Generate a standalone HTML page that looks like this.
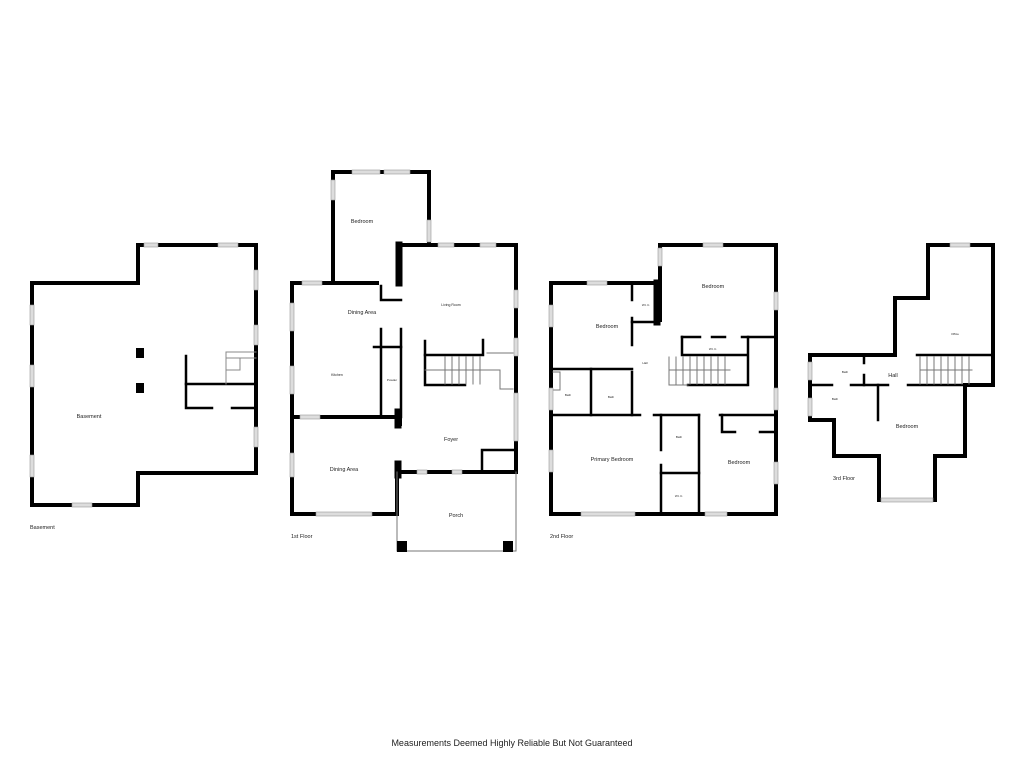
<!DOCTYPE html>
<html><head><meta charset="utf-8"><style>
html,body{margin:0;padding:0;background:#fff;width:1024px;height:768px;overflow:hidden}
svg{display:block}
text{font-family:"Liberation Sans",sans-serif;fill:#222}
</style></head><body>
<svg width="1024" height="768" viewBox="0 0 1024 768" xmlns="http://www.w3.org/2000/svg">
<rect width="1024" height="768" fill="#fff"/>
<g fill="none" stroke="#000" stroke-width="4" stroke-linecap="square">
<!-- Basement -->
<polygon points="32,283 138,283 138,245 256,245 256,473 138,473 138,505 32,505"/>
<g stroke-width="2.5">
<polyline points="186,356 186,408 212,408"/>
<polyline points="186,384 256,384"/>
<polyline points="232,408 256,408"/>
</g>
<g stroke-width="1" stroke="#888">
<polyline points="226,384 226,352 256,352"/>
<polyline points="226,358 256,358"/>
<polyline points="240,358 240,370 226,370"/>
</g>
<!-- 1st floor -->
<polyline points="333,283 333,172 429,172 429,245"/>
<polyline points="292,283 292,514 397,514 397,472 516,472 516,245 398,245"/>
<polyline points="292,283 377,283"/>
<line x1="399" y1="245" x2="399" y2="283" stroke-width="7"/>
<polyline points="292,417 397,417"/>
<line x1="398" y1="412" x2="398" y2="425" stroke-width="7"/>
<line x1="398" y1="464" x2="398" y2="475" stroke-width="7"/>
<g stroke-width="2.5">
<polyline points="381,286 381,300 401,300"/>
<polyline points="381,329 381,417"/>
<polyline points="401,329 401,417"/>
<polyline points="374,347 401,347"/>
<polyline points="425,341 425,385 465,385"/>
<polyline points="425,355 483,355 483,340"/>
<polyline points="482,470 482,450 516,450"/>
</g>
<g stroke-width="1" stroke="#777">
<polyline points="397,472 397,551 516,551 516,472"/>
<line x1="445" y1="357" x2="445" y2="384"/><line x1="452" y1="357" x2="452" y2="384"/><line x1="459" y1="357" x2="459" y2="384"/><line x1="466" y1="357" x2="466" y2="384"/><line x1="473" y1="357" x2="473" y2="384"/><line x1="480" y1="357" x2="480" y2="384"/>
<polyline points="425,370 500,370 500,389 513,389"/>
<polyline points="487,353 513,353"/>
</g>
<!-- 2nd floor -->
<polyline points="660,283 551,283 551,514 776,514 776,245 660,245 660,320"/>
<line x1="657" y1="283" x2="657" y2="322" stroke-width="7"/>
<g stroke-width="2.5">
<polyline points="632,283 632,300"/><polyline points="632,318 632,345"/><polyline points="632,372 632,415"/>
<polyline points="632,322 655,322"/>
<polyline points="551,369 632,369"/>
<polyline points="591,369 591,415"/>
<polyline points="551,415 640,415"/>
<polyline points="654,415 699,415"/>
<polyline points="661,415 661,450"/><polyline points="661,465 661,514"/>
<polyline points="699,415 699,514"/>
<polyline points="661,473 699,473"/>
<polyline points="682,337 682,355 746,355"/>
<polyline points="682,337 700,337"/><polyline points="712,337 725,337"/><polyline points="742,337 776,337"/>
<polyline points="748,337 748,385"/>
<polyline points="688,385 746,385"/>
<polyline points="720,415 776,415"/>
<polyline points="722,415 722,432 735,432"/><polyline points="760,432 776,432"/>
</g>
<g stroke-width="1" stroke="#777">
<polyline points="669,357 669,385 688,385"/>
<line x1="676" y1="357" x2="676" y2="384"/><line x1="683" y1="357" x2="683" y2="384"/><line x1="690" y1="357" x2="690" y2="384"/><line x1="697" y1="357" x2="697" y2="384"/><line x1="704" y1="357" x2="704" y2="384"/><line x1="711" y1="357" x2="711" y2="384"/><line x1="718" y1="357" x2="718" y2="384"/><line x1="725" y1="357" x2="725" y2="384"/>
<line x1="669" y1="370" x2="730" y2="370"/>
<polyline points="553,372 560,372 560,390 553,390"/>
</g>
<!-- 3rd floor -->
<polygon points="895,298 928,298 928,245 993,245 993,385 965,385 965,456 935,456 935,500 879,500 879,456 834,456 834,420 810,420 810,355 895,355"/>
<g stroke-width="2.5">
<polyline points="895,355 895,298"/>
<polyline points="864,355 864,363"/><polyline points="864,375 864,385"/>
<polyline points="810,385 832,385"/><polyline points="851,385 888,385"/><polyline points="908,385 965,385"/>
<polyline points="878,385 878,420"/>
<polyline points="917,355 993,355"/>
</g>
<g stroke-width="1" stroke="#777">
<polyline points="920,357 920,384"/>
<line x1="927" y1="357" x2="927" y2="384"/><line x1="934" y1="357" x2="934" y2="384"/><line x1="941" y1="357" x2="941" y2="384"/><line x1="948" y1="357" x2="948" y2="384"/><line x1="955" y1="357" x2="955" y2="384"/><line x1="962" y1="357" x2="962" y2="384"/><line x1="969" y1="357" x2="969" y2="384"/>
<line x1="920" y1="370" x2="972" y2="370"/>
</g>
</g>
<!-- windows -->
<g fill="#ddd" stroke="#999" stroke-width="0.6">
<rect x="30" y="305" width="4" height="20"/><rect x="30" y="365" width="4" height="22"/><rect x="30" y="455" width="4" height="22"/>
<rect x="144" y="243" width="14" height="4"/><rect x="218" y="243" width="20" height="4"/>
<rect x="254" y="270" width="4" height="20"/><rect x="254" y="325" width="4" height="20"/><rect x="254" y="427" width="4" height="20"/>
<rect x="72" y="503" width="20" height="4"/>
<rect x="352" y="170" width="28" height="4"/><rect x="384" y="170" width="26" height="4"/><rect x="331" y="180" width="4" height="20"/>
<rect x="427" y="220" width="4" height="22"/><rect x="438" y="243" width="16" height="4"/><rect x="480" y="243" width="16" height="4"/>
<rect x="290" y="303" width="4" height="28"/><rect x="290" y="366" width="4" height="28"/><rect x="290" y="453" width="4" height="24"/>
<rect x="514" y="290" width="4" height="18"/><rect x="514" y="338" width="4" height="18"/><rect x="514" y="393" width="4" height="48"/>
<rect x="316" y="512" width="56" height="4"/><rect x="417" y="470" width="10" height="4"/><rect x="452" y="470" width="10" height="4"/>
<rect x="300" y="415" width="20" height="4"/><rect x="302" y="281" width="20" height="4"/>
<rect x="587" y="281" width="20" height="4"/><rect x="549" y="305" width="4" height="22"/><rect x="549" y="388" width="4" height="22"/><rect x="549" y="450" width="4" height="22"/>
<rect x="703" y="243" width="20" height="4"/><rect x="658" y="248" width="4" height="18"/><rect x="774" y="292" width="4" height="18"/><rect x="774" y="388" width="4" height="22"/><rect x="774" y="462" width="4" height="22"/>
<rect x="581" y="512" width="54" height="4"/><rect x="705" y="512" width="22" height="4"/>
<rect x="950" y="243" width="20" height="4"/><rect x="808" y="362" width="4" height="18"/><rect x="808" y="398" width="4" height="18"/><rect x="881" y="498" width="52" height="4"/>
</g>
<!-- solid blocks -->
<g fill="#000">
<rect x="136" y="348" width="8" height="10"/><rect x="136" y="383" width="8" height="10"/>
<rect x="397" y="541" width="10" height="11"/><rect x="503" y="541" width="10" height="11"/>
<rect x="396" y="416" width="6" height="10"/>
</g>
<!-- labels -->
<g font-size="5.5" text-anchor="middle">
<text x="89" y="418">Basement</text>
<text x="362" y="223">Bedroom</text>
<text x="362" y="314">Dining Area</text>
<text x="451" y="306" font-size="3.5">Living Room</text>
<text x="337" y="376" font-size="3.5">Kitchen</text>
<text x="392" y="381" font-size="3">Powder</text>
<text x="451" y="441">Foyer</text>
<text x="344" y="471">Dining Area</text>
<text x="456" y="517">Porch</text>
<text x="713" y="288">Bedroom</text>
<text x="607" y="328">Bedroom</text>
<text x="646" y="306" font-size="3">W.I.C.</text>
<text x="645" y="364" font-size="3">Hall</text>
<text x="713" y="350" font-size="3">W.I.C.</text>
<text x="568" y="396" font-size="3">Bath</text>
<text x="611" y="398" font-size="3">Bath</text>
<text x="679" y="438" font-size="3">Bath</text>
<text x="612" y="461">Primary Bedroom</text>
<text x="739" y="464">Bedroom</text>
<text x="679" y="497" font-size="3">W.I.C.</text>
<text x="955" y="335" font-size="3">Office</text>
<text x="845" y="373" font-size="3">Bath</text>
<text x="893" y="377">Hall</text>
<text x="835" y="400" font-size="3">Bath</text>
<text x="907" y="428">Bedroom</text>
</g>
<g font-size="5.5">
<text x="30" y="529">Basement</text>
<text x="291" y="538">1st Floor</text>
<text x="550" y="538">2nd Floor</text>
<text x="833" y="480">3rd Floor</text>
</g>
<text x="512" y="746" font-size="9" text-anchor="middle">Measurements Deemed Highly Reliable But Not Guaranteed</text>
</svg>
</body></html>
